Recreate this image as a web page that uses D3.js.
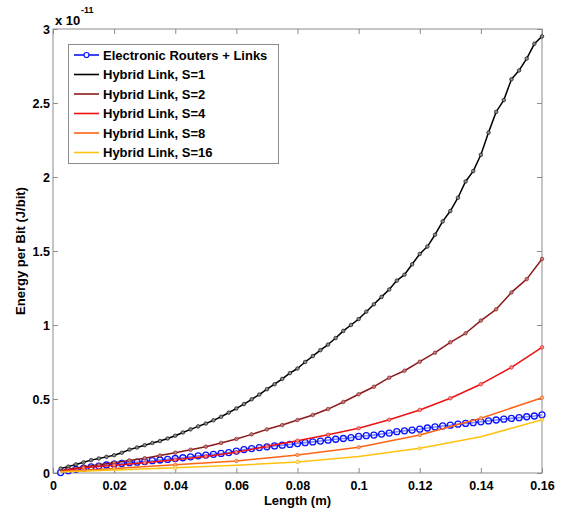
<!DOCTYPE html>
<html>
<head>
<meta charset="utf-8">
<script src="https://cdn.jsdelivr.net/npm/d3@7"></script>
<style>
  body { margin: 0; background: #fff; }
  text { font-family: "Liberation Sans", Arial, Helvetica, sans-serif; font-weight: bold; fill: #000; }
</style>
</head>
<body>
<svg id="chart" width="567" height="514"></svg>
<script>
"use strict";

// values are in units of 1e-11 J/bit, lengths in metres
var xTicks = [0, 0.02, 0.04, 0.06, 0.08, 0.1, 0.12, 0.14, 0.16];
var yTicks = [0, 0.5, 1, 1.5, 2, 2.5, 3];

var seriesNames = ["Electronic Routers + Links", "Hybrid Link, S=1", "Hybrid Link, S=2",
	"Hybrid Link, S=4", "Hybrid Link, S=8", "Hybrid Link, S=16"];

// fine grid 0.0025 .. 0.16
var xFine = d3.range(1, 65).map(function(k){ return k * 0.0025; });
var electronic = [0.003, 0.016, 0.025, 0.032, 0.042, 0.047, 0.054, 0.059, 0.065, 0.070,
	0.073, 0.077, 0.083, 0.088, 0.092, 0.098, 0.103, 0.109, 0.116, 0.121,
	0.126, 0.132, 0.138, 0.148, 0.158, 0.165, 0.172, 0.177, 0.183, 0.188,
	0.193, 0.199, 0.205, 0.210, 0.216, 0.222, 0.228, 0.233, 0.239, 0.247,
	0.252, 0.256, 0.263, 0.270, 0.279, 0.285, 0.290, 0.296, 0.304, 0.311,
	0.318, 0.323, 0.330, 0.335, 0.340, 0.346, 0.352, 0.358, 0.364, 0.369,
	0.374, 0.380, 0.385, 0.393];
var hybridS1 = [0.030, 0.043, 0.058, 0.072, 0.087, 0.098, 0.109, 0.120, 0.137, 0.158,
	0.172, 0.188, 0.203, 0.216, 0.233, 0.252, 0.274, 0.295, 0.315, 0.334,
	0.356, 0.380, 0.408, 0.436, 0.466, 0.498, 0.530, 0.566, 0.600, 0.636,
	0.675, 0.706, 0.750, 0.790, 0.830, 0.868, 0.912, 0.960, 1.000, 1.040,
	1.090, 1.140, 1.190, 1.240, 1.300, 1.340, 1.410, 1.480, 1.530, 1.610,
	1.700, 1.770, 1.860, 1.970, 2.040, 2.150, 2.300, 2.440, 2.520, 2.660,
	2.720, 2.800, 2.900, 2.950];

// the hybrid curves start at 0.0025 like the others, then follow their own marker step
var xS2 = [0.0025].concat(d3.range(1, 33).map(function(k){ return k * 0.005; }));
var hybridS2 = [0.016, 0.025, 0.040, 0.055, 0.070, 0.085, 0.100, 0.118, 0.137, 0.157, 0.178,
	0.203, 0.230, 0.261, 0.295, 0.324, 0.358, 0.392, 0.432, 0.480, 0.532,
	0.583, 0.644, 0.691, 0.752, 0.813, 0.883, 0.944, 1.030, 1.106, 1.220,
	1.310, 1.446];

var xS4 = [0.0025].concat(d3.range(1, 17).map(function(k){ return k * 0.01; }));
var hybridS4 = [0.014, 0.035, 0.052, 0.070, 0.090, 0.112, 0.140, 0.180, 0.218, 0.258, 0.302,
	0.360, 0.426, 0.505, 0.600, 0.714, 0.849];

var xS8 = [0.0025].concat(d3.range(1, 9).map(function(k){ return k * 0.02; }));
var hybridS8 = [0.010, 0.030, 0.055, 0.081, 0.122, 0.174, 0.257, 0.370, 0.509];
var hybridS16 = [0.006, 0.020, 0.035, 0.052, 0.074, 0.112, 0.167, 0.245, 0.360];

var series = [
	{ name: seriesNames[0], xs: xFine, ys: electronic, color: "#0a14ff", mark: "#ffffff", r: 3, every: 1, skip: 0, width: 1.6 },
	{ name: seriesNames[1], xs: xFine, ys: hybridS1, color: "#000000", mark: "#8a8a8a", r: 1.8, every: 1, skip: 0, width: 1.5 },
	{ name: seriesNames[2], xs: xS2, ys: hybridS2, color: "#8c1a1a", mark: "#c27a7a", r: 1.8, every: 1, skip: 1, width: 1.5 },
	{ name: seriesNames[3], xs: xS4, ys: hybridS4, color: "#ee1111", mark: "#ff8a8a", r: 1.8, every: 1, skip: 1, width: 1.5 },
	{ name: seriesNames[4], xs: xS8, ys: hybridS8, color: "#ff6414", mark: "#ffab7a", r: 1.8, every: 1, skip: 1, width: 1.5 },
	{ name: seriesNames[5], xs: xS8, ys: hybridS16, color: "#ffc20e", mark: "#ffe07a", r: 1.8, every: 2, skip: 1, width: 1.5 }
];

var plotLeft = 53, plotRight = 542, plotTop = 29, plotBottom = 473;
var svg = d3.select("#chart");

var x = d3.scaleLinear().domain([0, 0.16]).range([plotLeft, plotRight]);
var y = d3.scaleLinear().domain([0, 3]).range([plotBottom, plotTop]);
var fmt = function(d){ return String(+d.toFixed(3)); };

//the box around the plot, matlab style
svg.append("rect")
	.attr("x", plotLeft).attr("y", plotTop)
	.attr("width", plotRight - plotLeft).attr("height", plotBottom - plotTop)
	.style("fill", "none").style("stroke", "#8c8c8c").style("stroke-width", "1px");

function styleAxis(g){
	g.select(".domain").remove();
	g.selectAll(".tick line").style("stroke", "#8c8c8c");
	g.selectAll(".tick text").style("font-size", "12.5px").attr("font-family", null);
	g.attr("font-family", null);
}

svg.append("g").attr("transform", "translate(0," + plotBottom + ")")
	.call(d3.axisBottom(x).tickValues(xTicks).tickSize(-5).tickPadding(8).tickFormat(fmt))
	.call(styleAxis);
svg.append("g").attr("transform", "translate(0," + plotTop + ")")
	.call(d3.axisTop(x).tickValues(xTicks).tickSize(-5).tickFormat(""))
	.call(styleAxis);
svg.append("g").attr("transform", "translate(" + plotLeft + ",0)")
	.call(d3.axisLeft(y).tickValues(yTicks).tickSize(-5).tickPadding(3).tickFormat(fmt))
	.call(styleAxis);
svg.append("g").attr("transform", "translate(" + plotRight + ",0)")
	.call(d3.axisRight(y).tickValues(yTicks).tickSize(-5).tickFormat(""))
	.call(styleAxis);

//exponent label
svg.append("text").attr("x", 55).attr("y", 25).style("font-size", "13px").text("x 10");
svg.append("text").attr("x", 81).attr("y", 13).style("font-size", "9px").text("-11");

//axis titles
svg.append("text")
	.attr("text-anchor", "middle")
	.attr("transform", "translate(25,251) rotate(-90)")
	.style("font-size", "13px")
	.text("Energy per Bit (J/bit)");
svg.append("text")
	.attr("x", (plotLeft + plotRight) / 2).attr("y", 505)
	.attr("text-anchor", "middle")
	.style("font-size", "13px")
	.text("Length (m)");

var line = d3.line()
	.x(function(d){ return x(d[0]); })
	.y(function(d){ return y(d[1]); });

series.forEach(function(s){
	var pts = s.xs.map(function(v, i){ return [v, s.ys[i]]; });
	svg.append("path")
		.datum(pts)
		.attr("d", line)
		.style("fill", "none")
		.style("stroke", s.color)
		.style("stroke-width", s.width + "px")
		.style("stroke-linejoin", "round");
	svg.selectAll(null)
		.data(pts.slice(s.skip).filter(function(d, i){ return (i + 1) % s.every === 0; }))
		.enter()
		.append("circle")
		.attr("cx", function(d){ return x(d[0]); })
		.attr("cy", function(d){ return y(d[1]); })
		.attr("r", s.r)
		.style("fill", s.mark)
		.style("fill-opacity", s.r > 2 ? 0.5 : 1)
		.style("stroke", s.r > 2 ? s.color : d3.color(s.color).darker(0.3))
		.style("stroke-width", s.r > 2 ? "1.3px" : "0.6px");
});

//legend
var legend = svg.append("g");
legend.append("rect")
	.attr("x", 68.5).attr("y", 44.5).attr("width", 210).attr("height", 119)
	.style("fill", "#fff").style("stroke", "#8c8c8c").style("stroke-width", "1px");
var rowY = d3.scaleLinear().domain([0, 5]).range([55, 152.5]);
series.forEach(function(s, i){
	var yy = rowY(i);
	legend.append("line")
		.attr("x1", 74).attr("x2", 99).attr("y1", yy).attr("y2", yy)
		.style("stroke", s.color).style("stroke-width", "1.6px");
	if(i === 0){
		legend.append("circle").attr("cx", 86.5).attr("cy", yy).attr("r", 2.5)
			.style("fill", "#fff").style("stroke", s.color).style("stroke-width", "1.2px");
	}
	legend.append("text")
		.attr("x", 103).attr("y", yy).attr("dy", "0.36em")
		.style("font-size", "13px")
		.text(s.name);
});
</script>
</body>
</html>
